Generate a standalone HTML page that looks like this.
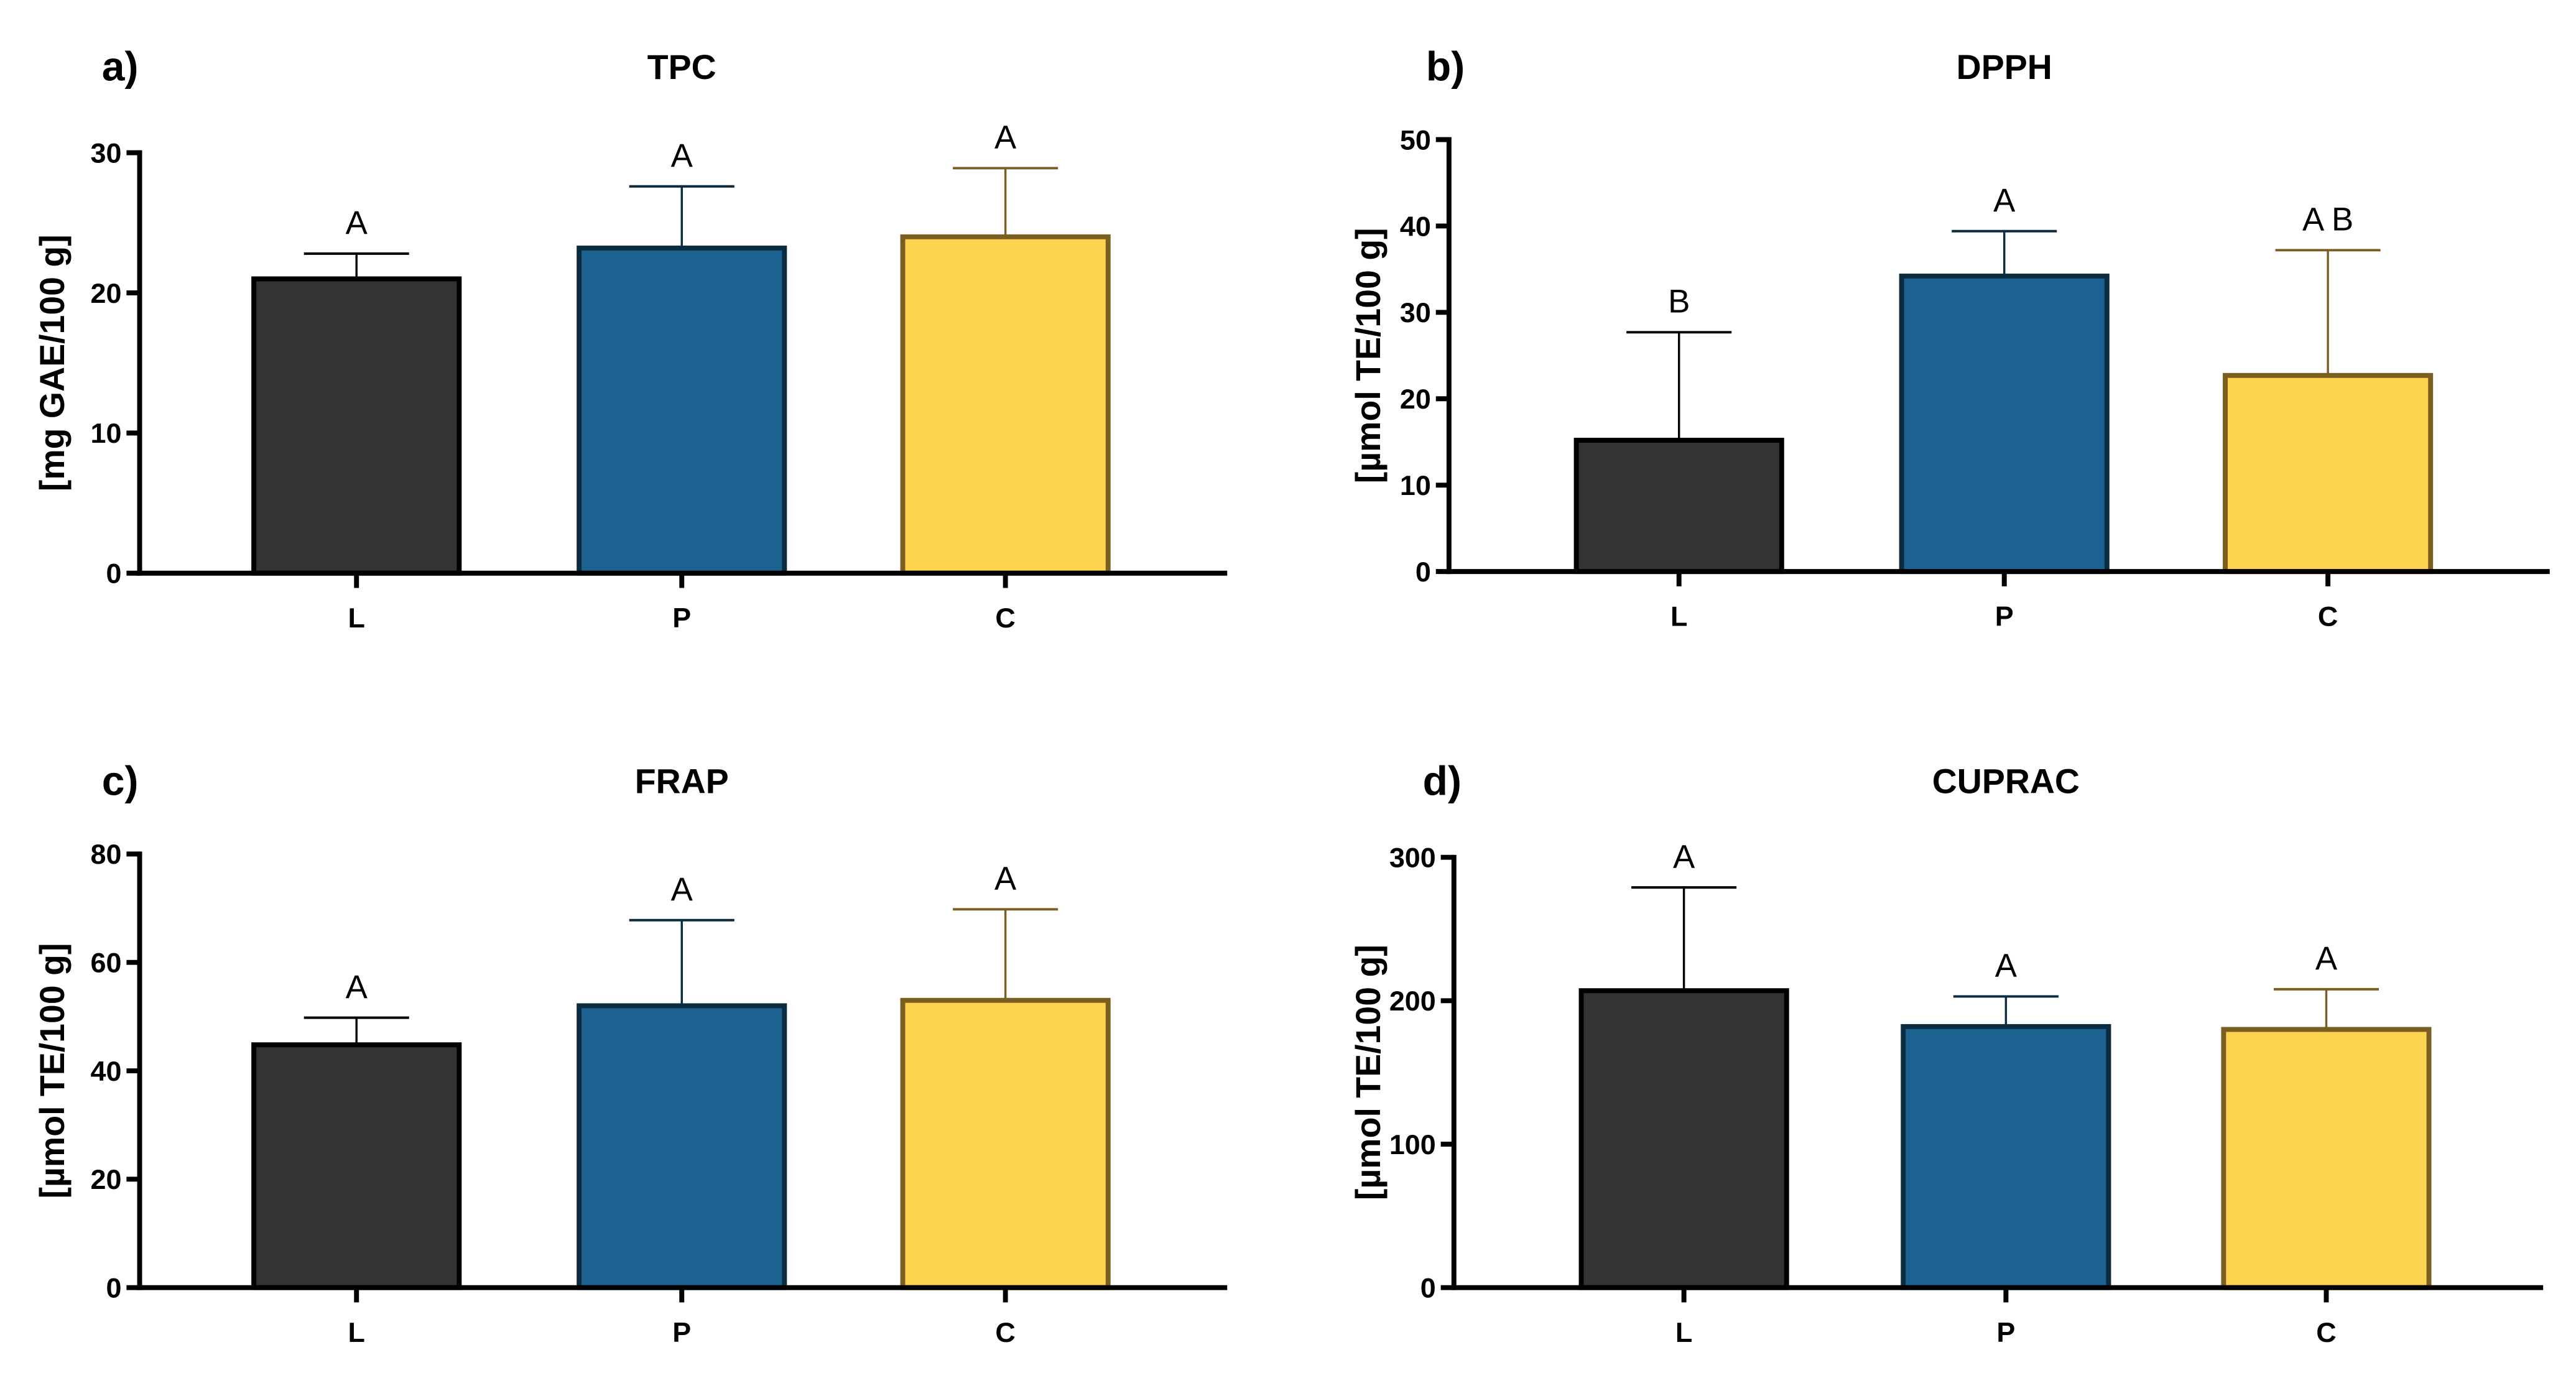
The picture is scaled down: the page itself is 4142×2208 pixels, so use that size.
<!DOCTYPE html>
<html><head><meta charset="utf-8"><style>
html,body{margin:0;padding:0;background:#fff;}
svg{display:block;}
text{font-family:"Liberation Sans",sans-serif;}
</style></head><body>
<svg id="fig" width="4142" height="2208" viewBox="0 0 1568 836" preserveAspectRatio="none" xmlns="http://www.w3.org/2000/svg"></svg>
<script>
const categories = ["L","P","C"];
const tpcValues = [21.0, 23.2, 24.0];
const tpcErrors = [22.8, 27.6, 28.9];
const tpcLetters = ["A","A","A"];
const tpcTicks = [0,10,20,30];
const dpphValues = [15.2, 34.2, 22.7];
const dpphErrors = [27.7, 39.4, 37.2];
const dpphLetters = ["B","A","A B"];
const dpphTicks = [0,10,20,30,40,50];
const frapValues = [44.8, 52.0, 53.0];
const frapErrors = [49.8, 67.8, 69.8];
const frapLetters = ["A","A","A"];
const frapTicks = [0,20,40,60,80];
const cupracValues = [207, 182, 180];
const cupracErrors = [279, 203, 208];
const cupracLetters = ["A","A","A"];
const cupracTicks = [0,100,200,300];

const fills = ["#333333","#1c6291","#fcd34f"];
const strokes = ["#000000","#0b2b40","#7a5e22"];
const svg = document.getElementById('fig');
const NS = "http://www.w3.org/2000/svg";
function mk(tag, attrs, parent){
  const e = document.createElementNS(NS, tag);
  for (const k in attrs) e.setAttribute(k, attrs[k]);
  (parent||svg).appendChild(e);
  return e;
}
function panel(cfg){
  const g = mk('g', {});
  
  
  const ymax = cfg.ticks[cfg.ticks.length-1];
  const y = v => cfg.y0 - (v/ymax)*(cfg.y0-cfg.yTop);
  const lbl = mk('text', {x:cfg.labX, y:cfg.titleY+9, 'font-size':25, 'font-weight':'bold'}, g);
  lbl.textContent = cfg.letter;
  
  
  const t = mk('text', {x:cfg.xc[1], y:cfg.titleY+8, 'font-size':21, 'font-weight':'bold', 'text-anchor':'middle'}, g);
  t.textContent = cfg.title;
  
  
  const yl = mk('text', {x:0, y:0, 'font-size':21, 'font-weight':'bold', 'text-anchor':'middle', transform:`translate(${cfg.ylabX},${(cfg.y0+cfg.yTop)/2}) rotate(-90)`}, g);
  yl.textContent = cfg.ylabel;
  
  
  cfg.ticks.forEach(v => {
    const tk = mk('line', {x1:cfg.ax-8, x2:cfg.ax, y1:y(v), y2:y(v), stroke:'#000', 'stroke-width':3}, g);
    
    
    const tl = mk('text', {x:cfg.ax-11, y:y(v)+6, 'font-size':17, 'font-weight':'bold', 'text-anchor':'end'}, g);
    tl.textContent = v;
    
    
  });
  categories.forEach((c,i) => {
    const xc = cfg.xc[i], w = 128;
    const er = mk('line', {x1:xc, x2:xc, y1:y(cfg.values[i]), y2:y(cfg.errors[i]), stroke:strokes[i], 'stroke-width':1.3}, g);
    
    
    const cap = mk('line', {x1:xc-32, x2:xc+32, y1:y(cfg.errors[i]), y2:y(cfg.errors[i]), stroke:strokes[i], 'stroke-width':1.5}, g);
    
    
    const b = mk('rect', {x:xc-w/2+1.5, y:y(cfg.values[i]), width:w-3, height:cfg.y0-y(cfg.values[i]), fill:fills[i], stroke:strokes[i], 'stroke-width':3}, g);
    
    
    const sl = mk('text', {x:xc, y:y(cfg.errors[i])-12, 'font-size':20, 'text-anchor':'middle'}, g);
    sl.textContent = cfg.letters[i];
    
    
    const xt = mk('line', {x1:xc, x2:xc, y1:cfg.y0, y2:cfg.y0+9, stroke:'#000', 'stroke-width':3}, g);
    
    
    const xl = mk('text', {x:xc, y:cfg.y0+33, 'font-size':17, 'font-weight':'bold', 'text-anchor':'middle'}, g);
    xl.textContent = c;
    
    
  });
  const yax = mk('line', {x1:cfg.ax, x2:cfg.ax, y1:cfg.yTop-1.5, y2:cfg.y0+1.5, stroke:'#000', 'stroke-width':3}, g);
  
  
  const xax = mk('line', {x1:cfg.ax-1.5, x2:cfg.xEnd, y1:cfg.y0, y2:cfg.y0, stroke:'#000', 'stroke-width':3}, g);
  
  
}
panel({key:'tpc', letter:'a)', title:'TPC', ylabel:'[mg GAE/100 g]', labX:62, titleY:40, ylabX:39, ax:85, xEnd:747, y0:349, yTop:93, xc:[217,415,612], values:tpcValues, errors:tpcErrors, letters:tpcLetters, ticks:tpcTicks});
panel({key:'dpph', letter:'b)', title:'DPPH', ylabel:'[µmol TE/100 g]', labX:868, titleY:40, ylabX:840, ax:882, xEnd:1552, y0:348, yTop:85, xc:[1022,1220,1417], values:dpphValues, errors:dpphErrors, letters:dpphLetters, ticks:dpphTicks});
panel({key:'frap', letter:'c)', title:'FRAP', ylabel:'[µmol TE/100 g]', labX:62, titleY:475, ylabX:39, ax:85, xEnd:747, y0:784, yTop:520, xc:[217,415,612], values:frapValues, errors:frapErrors, letters:frapLetters, ticks:frapTicks});
panel({key:'cuprac', letter:'d)', title:'CUPRAC', ylabel:'[µmol TE/100 g]', labX:866, titleY:475, ylabX:840, ax:885, xEnd:1548, y0:784, yTop:522, xc:[1025,1221,1416], values:cupracValues, errors:cupracErrors, letters:cupracLetters, ticks:cupracTicks})
</script>
</body></html>
